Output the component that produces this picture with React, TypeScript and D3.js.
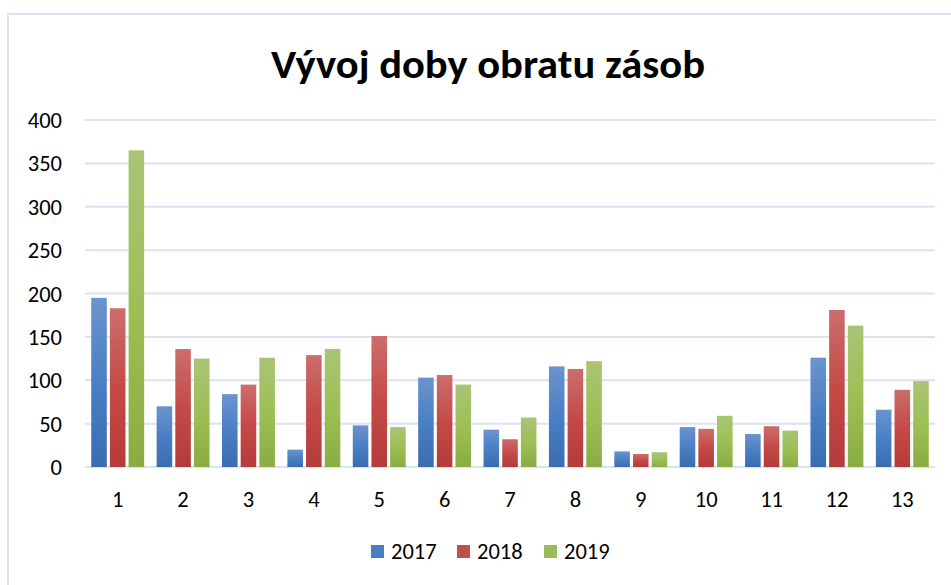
import React from "react";
import * as d3 from "d3";

const categories = ["1","2","3","4","5","6","7","8","9","10","11","12","13"];
const seriesNames = ["2017","2018","2019"];
const values2017 = [195, 70, 84, 20, 48, 103, 43, 116, 18, 46, 38, 126, 66];
const values2018 = [183, 136, 95, 129, 151, 106, 32, 113, 15, 44, 47, 181, 89];
const values2019 = [365, 125, 126, 136, 46, 95, 57, 122, 17, 59, 42, 163, 99];
const yTicks = [0, 50, 100, 150, 200, 250, 300, 350, 400];
const title = "Vývoj doby obratu zásob";

const W = 951, H = 585;
const left = 85, right = 935, top = 120, bottom = 467;

const gradients = [
  { id: "gBlue", top: "#6c94cc", mid: "#4a7fc5", bot: "#3a6daf" },
  { id: "gRed", top: "#cb6e6c", mid: "#c54a47", bot: "#b33b3a" },
  { id: "gGreen", top: "#a9c476", mid: "#9dbf55", bot: "#8aad43" },
];
const swatch = ["#4a7ec4", "#c0504d", "#9bbb59"];

export default function App() {
  const series = [values2017, values2018, values2019];
  const x = d3.scaleBand<string>().domain(categories).range([left, right]).padding(0);
  const y = d3.scaleLinear().domain([0, 400]).range([bottom, top]);
  const B = x.bandwidth();
  const w = B * 0.238;
  const gap = w * 0.2;
  const groupW = 3 * w + 2 * gap;
  const off = (B - groupW) / 2;
  const font = "Calibri, Carlito, 'Open Sans', sans-serif";

  const legendX = [371, 457, 544];

  return (
    <svg width={W} height={H} style={{ position: "absolute", left: 0, top: 0, background: "#fff" }}
      fontFamily={font}>
      <defs>
        {gradients.map((g) => (
          <linearGradient key={g.id} id={g.id} x1="0" y1="0" x2="0" y2="1">
            <stop offset="0" stopColor={g.top} />
            <stop offset="0.5" stopColor={g.mid} />
            <stop offset="1" stopColor={g.bot} />
          </linearGradient>
        ))}
      </defs>
      <rect x={0} y={0} width={W} height={H} fill="#fff" />
      <rect x={8} y={14} width={W + 20} height={H + 20} fill="none" stroke="#d9e3f2" strokeWidth={2} />
      <text x={488} y={78} textAnchor="middle" fontSize={40} fontWeight="bold" fill="#000"
        textLength={434} lengthAdjust="spacingAndGlyphs">{title}</text>
      {yTicks.map((t) => (
        <g key={t}>
          <line x1={left} x2={right} y1={y(t)} y2={y(t)} stroke="#d9e3f2" strokeWidth={2} />
          <text x={62} y={y(t)} dy="0.36em" textAnchor="end" fontSize={22.5} fill="#000">{t}</text>
        </g>
      ))}
      {categories.map((c, ci) => (
        <g key={c}>
          {series.map((s, si) => {
            const bx = (x(c) as number) + off + si * (w + gap);
            return (
              <rect key={si} x={bx} y={y(s[ci])} width={w} height={y(0) - y(s[ci])}
                fill={`url(#${gradients[si].id})`} />
            );
          })}
          <text x={(x(c) as number) + B / 2} y={507} textAnchor="middle" fontSize={22.5} fill="#000">{c}</text>
        </g>
      ))}
      {seriesNames.map((n, i) => (
        <g key={n}>
          <rect x={legendX[i]} y={545} width={13} height={13} fill={swatch[i]} />
          <text x={legendX[i] + 20} y={559} fontSize={22.5} fill="#000">{n}</text>
        </g>
      ))}
    </svg>
  );
}
